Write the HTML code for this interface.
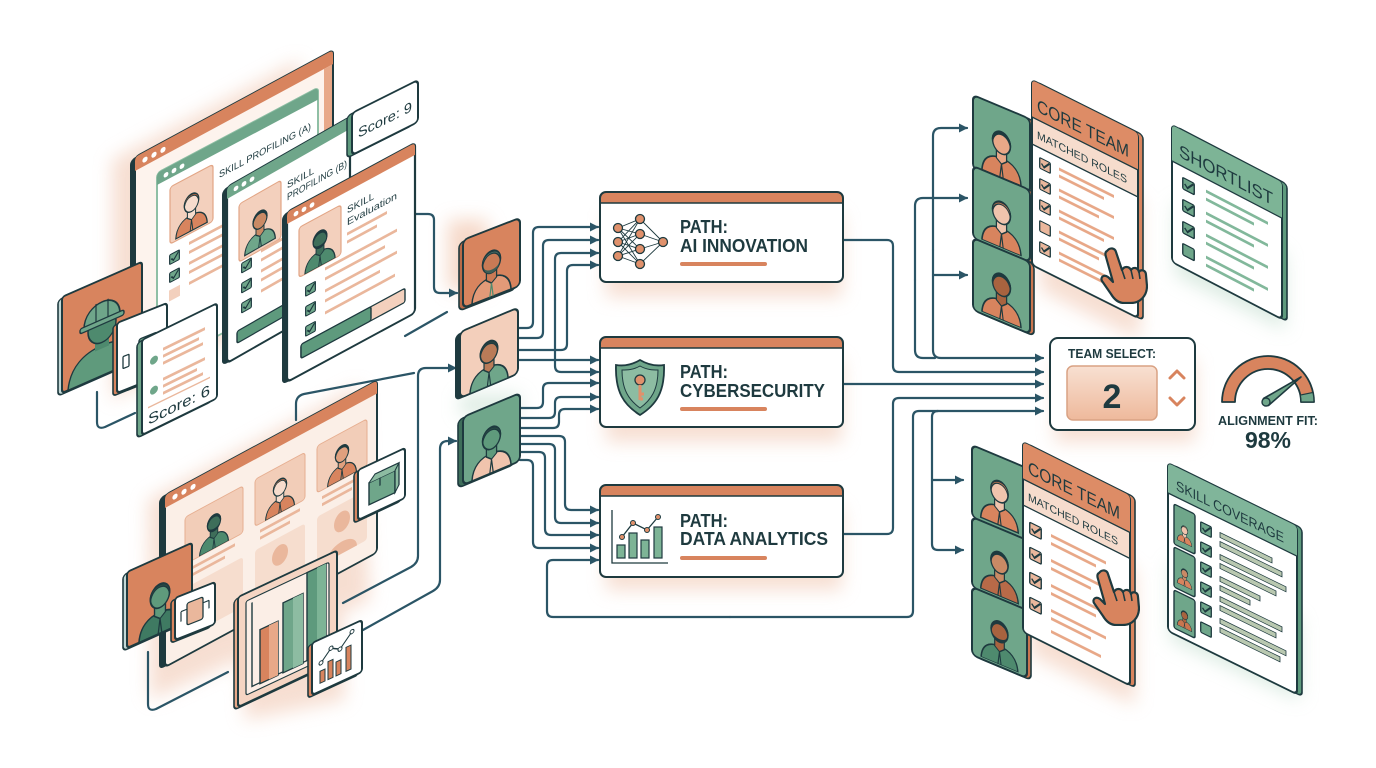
<!DOCTYPE html>
<html><head><meta charset="utf-8">
<style>
html,body{margin:0;padding:0;background:#fff;}
svg{display:block;}
text{font-family:"Liberation Sans",sans-serif;fill:#1e3a3f;}
</style></head>
<body>
<svg width="1376" height="768" viewBox="0 0 1376 768" xmlns="http://www.w3.org/2000/svg">
<defs>
<marker id="ah" viewBox="0 0 10 10" refX="9" refY="5" markerWidth="9" markerHeight="9" markerUnits="userSpaceOnUse" orient="auto"><path d="M0,0 L10,5 L0,10 Z" fill="#2b5566"/></marker>
<filter id="bl" x="-40%" y="-40%" width="180%" height="180%"><feGaussianBlur stdDeviation="9"/></filter>
<filter id="bl2" x="-40%" y="-40%" width="180%" height="180%"><feGaussianBlur stdDeviation="5"/></filter>
<linearGradient id="pg" x1="0" y1="0" x2="0" y2="1"><stop offset="0" stop-color="#f8e0d2"/><stop offset="1" stop-color="#eeb99c"/></linearGradient>
<symbol id="pp" viewBox="0 0 60 70">
<path d="M7,70 C8,54 17,47 30,47 C43,47 52,54 53,70 Z" style="fill:var(--sh)" stroke="#1e3a3f" stroke-width="1.8"/>
<path d="M24,38 V49 L30,54 L36,49 V38 Z" style="fill:var(--sk)" stroke="#1e3a3f" stroke-width="1.5"/>
<path d="M30,54 L28,70 M30,54 L32,70" style="stroke:var(--tie,#1e3a3f)" stroke-width="1.4" fill="none"/>
<ellipse cx="30" cy="29" rx="10.5" ry="13" style="fill:var(--sk)" stroke="#1e3a3f" stroke-width="1.8"/>
<path d="M21,33 C22,45 38,45 39,33 C37,40 23,40 21,33 Z" style="fill:var(--bd,none)"/>
<path d="M19.5,31 C17,13 43,12 40.5,31 C39,22 34,19.5 30,19.5 C26,19.5 21,22 19.5,31 Z" style="fill:var(--hr)" stroke="#1e3a3f" stroke-width="1.4"/>
</symbol>
<symbol id="chk" viewBox="0 0 12 12">
<rect x="0.7" y="0.7" width="10.6" height="10.6" rx="1.2" style="fill:var(--cb)" stroke="#1e3a3f" stroke-width="1.3"/>
<path d="M2.5,5.8 L5,8.5 L10.5,2" style="stroke:var(--ck,#1e3a3f)" fill="none" stroke-width="1.6"/>
</symbol>
<symbol id="hand" viewBox="0 0 50 58">
<path d="M9,5 C12,1 17,2 18,6 L24,24 C26,20 31,20 33,24 C35,21 40,21 41,26 C43,23 48,24 48,29 L49,40 C49,50 42,57 33,57 L26,57 C20,57 16,53 13,48 L4,35 C2,31 6,28 10,31 L15,36 L8,11 C7,8 7,6 9,5 Z" fill="#d8845e" stroke="#1e3a3f" stroke-width="2.2" stroke-linejoin="round"/>
<path d="M24,24 L27,33 M33,24 L35,33 M41,26 L42,33" stroke="#1e3a3f" stroke-width="1.6" fill="none"/>
</symbol>
</defs>

<!-- ============ GLOWS ============ -->
<g filter="url(#bl)" opacity="0.55">
<polygon points="112,160 300,60 300,300 112,400" fill="#f0c4ad"/>
<polygon points="148,500 360,385 370,600 150,700" fill="#f0c4ad"/>
<polygon points="240,600 340,560 345,700 245,720" fill="#f0c4ad"/>
<rect x="448" y="220" width="40" height="70" fill="#eeb99c"/>
<rect x="606" y="215" width="236" height="82" fill="#f0c4ad"/>
<rect x="606" y="360" width="236" height="82" fill="#f0c4ad"/>
<rect x="606" y="508" width="236" height="82" fill="#f0c4ad"/>
<rect x="1055" y="360" width="140" height="82" fill="#f0c4ad"/>
<polygon points="1040,150 1140,200 1140,340 1040,290" fill="#f0c4ad"/>
<polygon points="1030,520 1135,570 1135,705 1030,655" fill="#f0c4ad"/>
<polygon points="1175,200 1285,255 1285,330 1175,275" fill="#bfdccb"/>
<polygon points="1170,560 1300,620 1300,700 1170,640" fill="#bfdccb"/>
<rect x="460" y="395" width="60" height="20" fill="#bfdccb"/>
</g>

<!-- ============ CONNECTORS ============ -->
<g fill="none" stroke="#2b5566" stroke-width="2.2" stroke-linecap="round" stroke-linejoin="round">
<path d="M415,214 H428 Q434,214 434,220 V287 Q434,293 440,293 H457" marker-end="url(#ah)"/>
<path d="M405,336 L447,312"/>
<path d="M343,603 L411,567 Q418,563 418,556 V376 Q418,368 426,368 H456" marker-end="url(#ah)"/>
<path d="M363,630 L433,591 Q440,587 440,580 V449 Q440,441 448,441 H456" marker-end="url(#ah)"/>
<path d="M296,420 V404 Q296,396 304,394 L414,373"/>
<path d="M148,652 V704 Q148,712 156,709 L228,672"/>
<path d="M97,392 V422 Q97,430 105,427 L135,413"/>

<path d="M518,328 H527 Q533,328 533,322 V233 Q533,227 539,227 H598" marker-end="url(#ah)"/>
<path d="M518,338 H537 Q543,338 543,332 V246 Q543,240 549,240 H598" marker-end="url(#ah)"/>
<path d="M518,350 H561 Q567,350 567,344 V271 Q567,265 573,265 H598" marker-end="url(#ah)"/>
<path d="M555,300 V259 Q555,253 561,253 H598" marker-end="url(#ah)"/>
<path d="M555,300 V366 Q555,372 561,372 H598" marker-end="url(#ah)"/>
<path d="M518,360 H598" marker-end="url(#ah)"/>
<path d="M520,408 H537 Q543,408 543,402 V389 Q543,383 549,383 H598" marker-end="url(#ah)"/>
<path d="M520,418 H549 Q555,418 555,412 V403 Q555,397 561,397 H598" marker-end="url(#ah)"/>
<path d="M520,428 H553 Q559,428 559,422 V415 Q559,409 565,409 H598" marker-end="url(#ah)"/>
<path d="M520,436 H559 Q565,436 565,442 V504 Q565,510 571,510 H598" marker-end="url(#ah)"/>
<path d="M520,444 H549 Q555,444 555,450 V517 Q555,523 561,523 H598" marker-end="url(#ah)"/>
<path d="M520,452 H539 Q545,452 545,458 V529 Q545,535 551,535 H598" marker-end="url(#ah)"/>
<path d="M520,460 H527 Q533,460 533,466 V542 Q533,548 539,548 H598" marker-end="url(#ah)"/>
<path d="M730,617 H553 Q547,617 547,611 V566 Q547,560 553,560 H598" marker-end="url(#ah)"/>
<path d="M730,617 H907 Q913,617 913,611 V417 Q913,411 919,411 H1043" marker-end="url(#ah)"/>

<path d="M843,240 H887 Q893,240 893,246 V366 Q893,372 899,372 H1043" marker-end="url(#ah)"/>
<path d="M843,384 H1043" marker-end="url(#ah)"/>
<path d="M843,534 H887 Q893,534 893,528 V404 Q893,398 899,398 H1043" marker-end="url(#ah)"/>
<path d="M933,250 V136 Q933,128 941,128 H967" marker-end="url(#ah)"/>
<path d="M933,250 V350 Q933,358 941,358 H1043" marker-end="url(#ah)"/>
<path d="M933,275 H967" marker-end="url(#ah)"/>
<path d="M915,280 V206 Q915,198 923,198 H967" marker-end="url(#ah)"/>
<path d="M915,280 V350 Q915,358 923,358 H935"/>
<path d="M938,411 Q932,411 932,417 V544 Q932,550 938,550 H963" marker-end="url(#ah)"/>
<path d="M932,480 H963" marker-end="url(#ah)"/>
</g>

<!-- ============ LEFT TOP CLUSTER ============ -->
<!-- back orange window -->
<g transform="matrix(1,-0.54,0,1,130,160)"><rect width="198" height="205" rx="5" fill="#1e3a3f"/></g>
<g transform="matrix(1,-0.54,0,1,135,157)">
<rect width="198" height="205" rx="4" fill="#fdf3ed" stroke="#1e3a3f" stroke-width="2"/>
<path d="M0,14 V4 Q0,0 4,0 H194 Q198,0 198,4 V14 Z" fill="#d8845e"/>
<rect x="189" y="14" width="8" height="190" fill="#e8a888"/>
<circle cx="10" cy="8" r="2.6" fill="#fff"/><circle cx="19" cy="8" r="2.6" fill="#fff"/><circle cx="28" cy="8" r="2.6" fill="#fff"/>
</g>
<!-- window A -->
<g transform="matrix(1,-0.53,0,1,157,173)">
<rect width="161" height="195" rx="4" fill="#fff" stroke="#8fbfa5" stroke-width="2"/>
<path d="M0,12 V4 Q0,0 4,0 H157 Q161,0 161,4 V12 Z" fill="#6fa68a"/>
<circle cx="9" cy="6.5" r="2.4" fill="#fff"/><circle cx="17" cy="6.5" r="2.4" fill="#fff"/><circle cx="25" cy="6.5" r="2.4" fill="#fff"/>
<rect x="13" y="21" width="43" height="57" rx="3" fill="#f3d0bd" stroke="#e2a585" stroke-width="1.2"/>
<use href="#pp" x="14" y="26" width="41" height="52" style="--sh:#d8845e;--sk:#f6dccd;--hr:#c46a45"/>
<text x="62" y="38" font-size="10" textLength="92" lengthAdjust="spacingAndGlyphs">SKILL PROFILING (A)</text>
<use href="#chk" x="12" y="88" width="11" height="11" style="--cb:#6fa68a"/>
<use href="#chk" x="12" y="106" width="11" height="11" style="--cb:#6fa68a"/>
<rect x="12" y="124" width="11" height="11" fill="#f3d0bd"/>
<rect x="32" y="86" width="55" height="3" fill="#eab79c"/><rect x="32" y="95" width="45" height="3" fill="#eab79c"/>
<rect x="32" y="106" width="55" height="3" fill="#eab79c"/><rect x="32" y="115" width="40" height="3" fill="#eab79c"/>
<rect x="32" y="126" width="50" height="3" fill="#eab79c"/>
</g>
<!-- window B -->
<g transform="matrix(1,-0.57,0,1,222,190)"><rect width="123" height="176" rx="5" fill="#1e3a3f"/></g>
<g transform="matrix(1,-0.57,0,1,227,187)">
<rect width="123" height="176" rx="4" fill="#fff" stroke="#1e3a3f" stroke-width="2.2"/>
<path d="M0,12 V4 Q0,0 4,0 H119 Q123,0 123,4 V12 Z" fill="#6fa68a"/>
<circle cx="9" cy="6.5" r="2.4" fill="#fff"/><circle cx="17" cy="6.5" r="2.4" fill="#fff"/><circle cx="25" cy="6.5" r="2.4" fill="#fff"/>
<rect x="12" y="24" width="42" height="58" rx="3" fill="#f3d0bd" stroke="#e2a585" stroke-width="1.2"/>
<use href="#pp" x="13" y="29" width="40" height="53" style="--sh:#6fa68a;--sk:#c98a65;--hr:#1e3a3f"/>
<text x="60" y="36" font-size="10">SKILL</text>
<text x="60" y="48" font-size="10" textLength="60" lengthAdjust="spacingAndGlyphs">PROFILING (B)</text>
<use href="#chk" x="14" y="84" width="11" height="11" style="--cb:#6fa68a"/>
<use href="#chk" x="14" y="104" width="11" height="11" style="--cb:#6fa68a"/>
<use href="#chk" x="14" y="124" width="11" height="11" style="--cb:#6fa68a"/>
<rect x="34" y="82" width="70" height="3" fill="#eab79c"/><rect x="34" y="91" width="55" height="3" fill="#eab79c"/>
<rect x="34" y="102" width="70" height="3" fill="#eab79c"/><rect x="34" y="111" width="50" height="3" fill="#eab79c"/>
<rect x="34" y="122" width="65" height="3" fill="#eab79c"/>
<rect x="10" y="150" width="103" height="12" rx="2" fill="#5e9a7d" stroke="#1e3a3f" stroke-width="1.4"/>
</g>
<!-- evaluation window -->
<g transform="matrix(1,-0.54,0,1,282,215)"><rect width="128" height="170" rx="5" fill="#1e3a3f"/></g>
<g transform="matrix(1,-0.54,0,1,287,212)">
<rect width="128" height="170" rx="4" fill="#fff" stroke="#1e3a3f" stroke-width="2.2"/>
<path d="M0,12 V4 Q0,0 4,0 H124 Q128,0 128,4 V12 Z" fill="#d8845e"/>
<circle cx="9" cy="6.5" r="2.4" fill="#fff"/><circle cx="17" cy="6.5" r="2.4" fill="#fff"/><circle cx="25" cy="6.5" r="2.4" fill="#fff"/>
<rect x="12" y="22" width="42" height="50" rx="3" fill="#f3d0bd" stroke="#e2a585" stroke-width="1.2"/>
<use href="#pp" x="13" y="26" width="40" height="46" style="--sh:#4e8a6e;--sk:#3e6e5a;--hr:#1e3a3f;--bd:#1e3a3f"/>
<text x="60" y="34" font-size="10">SKILL</text>
<text x="60" y="46" font-size="10" textLength="50" lengthAdjust="spacingAndGlyphs">Evaluation</text>
<rect x="60" y="53" width="40" height="3" fill="#eab79c"/><rect x="60" y="61" width="30" height="3" fill="#eab79c"/>
<use href="#chk" x="18" y="84" width="11" height="11" style="--cb:#6fa68a"/>
<use href="#chk" x="18" y="104" width="11" height="11" style="--cb:#6fa68a"/>
<use href="#chk" x="18" y="124" width="11" height="11" style="--cb:#6fa68a"/>
<rect x="38" y="76" width="72" height="3" fill="#eab79c"/><rect x="38" y="86" width="60" height="3" fill="#eab79c"/>
<rect x="38" y="98" width="72" height="3" fill="#eab79c"/><rect x="38" y="108" width="55" height="3" fill="#eab79c"/>
<rect x="38" y="120" width="70" height="3" fill="#eab79c"/>
<rect x="14" y="140" width="104" height="14" rx="2" fill="#f3d0bd" stroke="#1e3a3f" stroke-width="1.4"/>
<rect x="14" y="140" width="70" height="14" rx="2" fill="#5e9a7d" stroke="#1e3a3f" stroke-width="1.4"/>
</g>
<!-- score 9 -->
<g transform="matrix(1,-0.5,0,1,347,116)"><rect width="66" height="42" rx="4" fill="#5e9a7d" stroke="#1e3a3f" stroke-width="1.5"/></g>
<g transform="matrix(1,-0.5,0,1,352,113)">
<rect width="66" height="42" rx="4" fill="#fff" stroke="#1e3a3f" stroke-width="2"/>
<text x="6" y="28" font-size="14" textLength="54" lengthAdjust="spacingAndGlyphs">Score: 9</text>
</g>
<!-- helmet card -->
<g transform="matrix(1,-0.44,0,1,58,300)"><rect width="80" height="96" rx="4" fill="#c3d8d6" stroke="#1e3a3f" stroke-width="1.6"/></g>
<g transform="matrix(1,-0.44,0,1,62,297)">
<rect width="80" height="96" rx="3" fill="#d8845e" stroke="#1e3a3f" stroke-width="2"/>
<path d="M6,96 C8,74 22,66 40,66 C58,66 72,74 74,96 Z" fill="#5f9a7c" stroke="#1e3a3f" stroke-width="1.5"/>
<rect x="33" y="55" width="14" height="14" fill="#4e8a6e"/>
<ellipse cx="40" cy="47" rx="14" ry="16" fill="#4e8a6e" stroke="#1e3a3f" stroke-width="1.5"/>
<path d="M22,42 C22,16 58,16 58,42 Z" fill="#6fa68a" stroke="#1e3a3f" stroke-width="1.6"/>
<rect x="18" y="40" width="44" height="5" rx="2" fill="#6fa68a" stroke="#1e3a3f" stroke-width="1.4"/>
<path d="M34,22 V40 M46,22 V40" stroke="#1e3a3f" stroke-width="1.2"/>
</g>
<!-- small card -->
<g transform="matrix(1,-0.4,0,1,113,326)"><rect width="50" height="70" rx="3" fill="#d8845e" stroke="#1e3a3f" stroke-width="1.6"/></g>
<g transform="matrix(1,-0.4,0,1,117,323)">
<rect width="50" height="70" rx="3" fill="#fff" stroke="#1e3a3f" stroke-width="2"/>
<rect x="22" y="25" width="18" height="32" rx="2" fill="#6fa68a" stroke="#1e3a3f" stroke-width="1.4"/>
<rect x="6" y="36" width="6" height="12" rx="1" fill="none" stroke="#1e3a3f" stroke-width="1.3"/>
</g>
<!-- score 6 -->
<g transform="matrix(1,-0.49,0,1,137,343)"><rect width="75" height="95" rx="4" fill="#6fa68a" stroke="#1e3a3f" stroke-width="1.6"/></g>
<g transform="matrix(1,-0.49,0,1,142,340)">
<rect width="75" height="95" rx="3" fill="#fff" stroke="#1e3a3f" stroke-width="2"/>
<circle cx="12" cy="26" r="4" fill="#6fa68a"/><circle cx="12" cy="56" r="4" fill="#6fa68a"/>
<rect x="21" y="18" width="42" height="3" fill="#eab79c"/><rect x="21" y="25" width="36" height="3" fill="#eab79c"/><rect x="21" y="32" width="40" height="3" fill="#eab79c"/>
<rect x="21" y="48" width="42" height="3" fill="#eab79c"/><rect x="21" y="55" width="34" height="3" fill="#eab79c"/><rect x="21" y="62" width="40" height="3" fill="#eab79c"/>
<rect x="6" y="70" width="62" height="1.5" fill="#eab79c"/>
<text x="6" y="88" font-size="15" textLength="62" lengthAdjust="spacingAndGlyphs">Score: 6</text>
</g>

<!-- ============ LEFT BOTTOM CLUSTER ============ -->
<g transform="matrix(1,-0.54,0,1,159,498)"><rect width="212" height="172" rx="5" fill="#1e3a3f"/></g>
<g transform="matrix(1,-0.54,0,1,165,495)">
<rect width="212" height="172" rx="4" fill="#fbefe7" stroke="#1e3a3f" stroke-width="2"/>
<path d="M0,13 V4 Q0,0 4,0 H208 Q212,0 212,4 V13 Z" fill="#d8845e"/>
<circle cx="10" cy="7" r="2.6" fill="#fff"/><circle cx="19" cy="7" r="2.6" fill="#fff"/><circle cx="28" cy="7" r="2.6" fill="#fff"/>
<rect x="20" y="33" width="58" height="47" rx="3" fill="#f2cdb8" stroke="#e6ae90"/>
<use href="#pp" x="27" y="36" width="44" height="44" style="--sh:#4e8a6e;--sk:#3e6e5a;--hr:#1e3a3f;--bd:#1e3a3f"/>
<rect x="90" y="33" width="50" height="47" rx="3" fill="#f2cdb8" stroke="#e6ae90"/>
<use href="#pp" x="93" y="36" width="44" height="44" style="--sh:#d8845e;--sk:#f6dccd;--hr:#c46a45"/>
<rect x="152" y="33" width="50" height="47" rx="3" fill="#f2cdb8" stroke="#e6ae90"/>
<use href="#pp" x="155" y="36" width="44" height="44" style="--sh:#d8845e;--sk:#e0a07e;--hr:#1e3a3f"/>
<rect x="25" y="86" width="45" height="3" fill="#eab79c"/><rect x="25" y="93" width="35" height="3" fill="#eab79c"/>
<rect x="95" y="86" width="40" height="3" fill="#eab79c"/><rect x="95" y="93" width="30" height="3" fill="#eab79c"/>
<rect x="157" y="86" width="40" height="3" fill="#eab79c"/><rect x="157" y="93" width="30" height="3" fill="#eab79c"/>
<rect x="20" y="104" width="58" height="50" rx="3" fill="#f6ddce"/>
<rect x="90" y="104" width="50" height="50" rx="3" fill="#f6ddce"/>
<rect x="152" y="104" width="50" height="50" rx="3" fill="#f6ddce"/>
<ellipse cx="115" cy="122" rx="8" ry="10" fill="#eab79c"/>
<ellipse cx="177" cy="122" rx="8" ry="10" fill="#eab79c"/>
<path d="M162,154 C163,138 191,138 192,154 Z" fill="#eab79c"/>
</g>
<!-- man card -->
<g transform="matrix(1,-0.45,0,1,123,575)"><rect width="65" height="76" rx="4" fill="#c3d8d6" stroke="#1e3a3f" stroke-width="1.6"/></g>
<g transform="matrix(1,-0.45,0,1,127,572)">
<rect width="65" height="76" rx="3" fill="#d8845e" stroke="#1e3a3f" stroke-width="2"/>
<use href="#pp" x="3" y="12" width="60" height="64" style="--sh:#3f7a62;--sk:#5f9a7c;--hr:#2b4f45"/>
</g>
<!-- robot card -->
<g transform="matrix(1,-0.4,0,1,171,601)"><rect width="40" height="42" rx="3" fill="#d8845e" stroke="#1e3a3f" stroke-width="1.6"/></g>
<g transform="matrix(1,-0.4,0,1,175,598)">
<rect width="40" height="42" rx="3" fill="#fff" stroke="#1e3a3f" stroke-width="2"/>
<rect x="12" y="10" width="16" height="22" rx="2" fill="#eab79c" stroke="#1e3a3f" stroke-width="1.3"/>
<path d="M6,16 H12 M28,16 H34 M6,16 V26 M34,16 V24" stroke="#1e3a3f" stroke-width="1.2" fill="none"/>
</g>
<!-- bar chart card -->
<g transform="matrix(1,-0.47,0,1,234,600)"><rect width="99" height="110" rx="4" fill="#e8a888" stroke="#1e3a3f" stroke-width="1.6"/></g>
<g transform="matrix(1,-0.47,0,1,238,597)">
<rect width="99" height="110" rx="3" fill="#f5d5c3" stroke="#1e3a3f" stroke-width="2"/>
<rect x="8" y="8" width="83" height="94" rx="2" fill="#fbeee6" stroke="#1e3a3f" stroke-width="1.2"/>
<path d="M14,12 V96 H86" stroke="#1e3a3f" stroke-width="1.4" fill="none"/>
<rect x="22" y="43" width="18" height="54" fill="#d8845e" stroke="#1e3a3f" stroke-width="1.4"/>
<rect x="31" y="43" width="9" height="54" fill="#e8a888"/>
<rect x="45" y="27" width="20" height="70" fill="#6fa68a" stroke="#1e3a3f" stroke-width="1.4"/>
<rect x="55" y="27" width="10" height="70" fill="#8dbca2"/>
<rect x="69" y="8" width="19" height="88" fill="#5e9a7d" stroke="#1e3a3f" stroke-width="1.4"/>
<rect x="79" y="8" width="9" height="88" fill="#7db496"/>
</g>
<!-- line chart card -->
<g transform="matrix(1,-0.46,0,1,308,646)"><rect width="50" height="52" rx="3" fill="#d8845e" stroke="#1e3a3f" stroke-width="1.6"/></g>
<g transform="matrix(1,-0.46,0,1,312,643)">
<rect width="50" height="52" rx="3" fill="#fff" stroke="#1e3a3f" stroke-width="2"/>
<rect x="8" y="32" width="5" height="12" fill="#d8845e" stroke="#1e3a3f" stroke-width="1"/>
<rect x="16" y="26" width="5" height="18" fill="#d8845e" stroke="#1e3a3f" stroke-width="1"/>
<rect x="24" y="30" width="5" height="14" fill="#d8845e" stroke="#1e3a3f" stroke-width="1"/>
<rect x="34" y="20" width="5" height="24" fill="#d8845e" stroke="#1e3a3f" stroke-width="1"/>
<polyline points="9,24 19,14 28,19 40,7" fill="none" stroke="#1e3a3f" stroke-width="1.3"/>
<circle cx="9" cy="24" r="2" fill="#fff" stroke="#1e3a3f"/><circle cx="19" cy="14" r="2" fill="#fff" stroke="#1e3a3f"/><circle cx="28" cy="19" r="2" fill="#fff" stroke="#1e3a3f"/><circle cx="40" cy="7" r="2" fill="#fff" stroke="#1e3a3f"/>
</g>
<!-- box card -->
<g transform="matrix(1,-0.47,0,1,354,473)"><rect width="47" height="50" rx="3" fill="#d8845e" stroke="#1e3a3f" stroke-width="1.6"/></g>
<g transform="matrix(1,-0.47,0,1,358,470)">
<rect width="47" height="50" rx="3" fill="#fff" stroke="#1e3a3f" stroke-width="2"/>
<rect x="11" y="18" width="26" height="22" fill="#6fa68a" stroke="#1e3a3f" stroke-width="1.4"/>
<path d="M11,18 L17,12 H41 L37,18 M37,18 V40 L41,34 V12" fill="#8dbca2" stroke="#1e3a3f" stroke-width="1.3"/>
<path d="M22,18 V26" stroke="#1e3a3f" stroke-width="1.3"/>
</g>

<!-- ============ MIDDLE AVATARS ============ -->
<g transform="matrix(1,-0.39,0,1,459,243)"><rect width="57" height="68" rx="5" fill="#b86a48" stroke="#1e3a3f" stroke-width="1.6"/></g>
<g transform="matrix(1,-0.39,0,1,463,240)">
<rect width="57" height="68" rx="5" fill="#d8845e" stroke="#1e3a3f" stroke-width="2"/>
<use href="#pp" x="3" y="8" width="51" height="60" style="--sh:#e39a78;--sk:#c97a55;--hr:#4e6e64;--bd:#3e5e56;--tie:#4e8a6e"/>
</g>
<g transform="matrix(1,-0.42,0,1,455,335)"><rect width="58" height="66" rx="5" fill="#1e3a3f"/></g>
<g transform="matrix(1,-0.42,0,1,460,332)">
<rect width="58" height="66" rx="5" fill="#f3cfbb" stroke="#1e3a3f" stroke-width="2"/>
<use href="#pp" x="3" y="8" width="52" height="58" style="--sh:#6fa68a;--sk:#b97b58;--hr:#2b4440"/>
</g>
<g transform="matrix(1,-0.42,0,1,458,420)"><rect width="57" height="68" rx="5" fill="#3e6e5a" stroke="#1e3a3f" stroke-width="1.6"/></g>
<g transform="matrix(1,-0.42,0,1,463,417)">
<rect width="57" height="68" rx="5" fill="#6fa68a" stroke="#1e3a3f" stroke-width="2"/>
<use href="#pp" x="3" y="8" width="51" height="60" style="--sh:#f0c4ad;--sk:#5f9a7c;--hr:#2b4f45"/>
</g>

<!-- ============ PATH BOXES ============ -->
<g>
<rect x="600" y="192" width="243" height="90" rx="6" fill="#fff"/>
<path d="M600,203 V198 Q600,192 606,192 H837 Q843,192 843,198 V203 Z" fill="#d8845e"/>
<line x1="600" y1="203" x2="843" y2="203" stroke="#1e3a3f" stroke-width="1.5"/>
<rect x="600" y="192" width="243" height="90" rx="6" fill="none" stroke="#1e3a3f" stroke-width="2"/>
<g stroke="#1e3a3f" stroke-width="0.9">
<path d="M618,228 L640,219 M618,228 L640,234 M618,228 L640,249 M618,228 L640,264 M618,242 L640,219 M618,242 L640,234 M618,242 L640,249 M618,242 L640,264 M618,256 L640,219 M618,256 L640,234 M618,256 L640,249 M618,256 L640,264 M640,219 L663,242 M640,234 L663,242 M640,249 L663,242 M640,264 L663,242"/>
</g>
<g fill="#e0916c" stroke="#1e3a3f" stroke-width="1.3">
<circle cx="618" cy="228" r="4.5"/><circle cx="618" cy="242" r="4.5"/><circle cx="618" cy="256" r="4.5"/>
<circle cx="640" cy="219" r="4.5"/><circle cx="640" cy="234" r="4.5"/><circle cx="640" cy="249" r="4.5"/><circle cx="640" cy="264" r="4.5"/>
<circle cx="663" cy="242" r="4.5"/>
</g>
<text x="680" y="233" font-size="18" font-weight="bold" textLength="48" lengthAdjust="spacingAndGlyphs">PATH:</text>
<text x="680" y="252" font-size="18" font-weight="bold" textLength="128" lengthAdjust="spacingAndGlyphs">AI INNOVATION</text>
<rect x="680" y="262" width="87" height="4" rx="2" fill="#d8845e"/>
</g>
<g>
<rect x="600" y="337" width="243" height="90" rx="6" fill="#fff"/>
<path d="M600,348 V343 Q600,337 606,337 H837 Q843,337 843,343 V348 Z" fill="#d8845e"/>
<line x1="600" y1="348" x2="843" y2="348" stroke="#1e3a3f" stroke-width="1.5"/>
<rect x="600" y="337" width="243" height="90" rx="6" fill="none" stroke="#1e3a3f" stroke-width="2"/>
<path d="M640,360 C650,366 658,366 664,365 C665,392 656,405 640,415 C624,405 615,392 616,365 C622,366 630,366 640,360 Z" fill="#6fa68a" stroke="#1e3a3f" stroke-width="1.8"/>
<path d="M640,366 C647,370 653,370 658,370 C658,390 651,400 640,408 C629,400 622,390 622,370 C627,370 633,370 640,366 Z" fill="#8dbca2" stroke="#1e3a3f" stroke-width="1"/>
<circle cx="640" cy="380" r="5" fill="#e0916c" stroke="#1e3a3f" stroke-width="1.3"/>
<path d="M640,385 V400 M640,394 H644 M640,399 H643" stroke="#e0916c" stroke-width="3" fill="none"/>
<text x="680" y="378" font-size="18" font-weight="bold" textLength="48" lengthAdjust="spacingAndGlyphs">PATH:</text>
<text x="680" y="397" font-size="18" font-weight="bold" textLength="145" lengthAdjust="spacingAndGlyphs">CYBERSECURITY</text>
<rect x="680" y="407" width="87" height="4" rx="2" fill="#d8845e"/>
</g>
<g>
<rect x="600" y="485" width="243" height="92" rx="6" fill="#fff"/>
<path d="M600,496 V491 Q600,485 606,485 H837 Q843,485 843,491 V496 Z" fill="#d8845e"/>
<line x1="600" y1="496" x2="843" y2="496" stroke="#1e3a3f" stroke-width="1.5"/>
<rect x="600" y="485" width="243" height="92" rx="6" fill="none" stroke="#1e3a3f" stroke-width="2"/>
<path d="M612,510 V563 H668" stroke="#1e3a3f" stroke-width="1.3" fill="none"/>
<g fill="#7db496" stroke="#1e3a3f" stroke-width="1.2">
<rect x="617" y="545" width="8" height="13"/><rect x="629" y="533" width="8" height="25"/><rect x="641" y="540" width="8" height="18"/><rect x="654" y="527" width="8" height="31"/>
</g>
<polyline points="622,537 633,523 647,530 658,517" fill="none" stroke="#1e3a3f" stroke-width="1.3"/>
<g fill="#e0916c" stroke="#1e3a3f" stroke-width="1"><circle cx="622" cy="537" r="2.5"/><circle cx="633" cy="523" r="2.5"/><circle cx="647" cy="530" r="2.5"/><circle cx="658" cy="517" r="2.5"/></g>
<text x="680" y="527" font-size="18" font-weight="bold" textLength="48" lengthAdjust="spacingAndGlyphs">PATH:</text>
<text x="680" y="545" font-size="18" font-weight="bold" textLength="148" lengthAdjust="spacingAndGlyphs">DATA ANALYTICS</text>
<rect x="680" y="556" width="87" height="4" rx="2" fill="#d8845e"/>
</g>

<!-- ============ RIGHT TOP ============ -->
<g transform="matrix(1,0.42,0,1,977,97)"><rect width="57" height="74" rx="5" fill="#c9754f" stroke="#1e3a3f" stroke-width="1.6"/></g>
<g transform="matrix(1,0.42,0,1,973,95)"><rect width="57" height="74" rx="5" fill="#6fa68a" stroke="#1e3a3f" stroke-width="2"/>
<use href="#pp" x="3" y="10" width="51" height="62" style="--sh:#d8845e;--sk:#e8a888;--hr:#1e3a3f"/></g>
<g transform="matrix(1,0.42,0,1,977,168)"><rect width="57" height="72" rx="5" fill="#c9754f" stroke="#1e3a3f" stroke-width="1.6"/></g>
<g transform="matrix(1,0.42,0,1,973,166)"><rect width="57" height="72" rx="5" fill="#6fa68a" stroke="#1e3a3f" stroke-width="2"/>
<use href="#pp" x="3" y="10" width="51" height="60" style="--sh:#d8845e;--sk:#f0c4ad;--hr:#c9754f"/></g>
<g transform="matrix(1,0.42,0,1,977,240)"><rect width="57" height="72" rx="5" fill="#c9754f" stroke="#1e3a3f" stroke-width="1.6"/></g>
<g transform="matrix(1,0.42,0,1,973,238)"><rect width="57" height="72" rx="5" fill="#6fa68a" stroke="#1e3a3f" stroke-width="2"/>
<use href="#pp" x="3" y="10" width="51" height="60" style="--sh:#d8845e;--sk:#a8633f;--hr:#1e3a3f"/></g>

<g transform="matrix(1,0.5,0,1,1037,82)"><rect width="106" height="185" rx="4" fill="#d8845e" stroke="#1e3a3f" stroke-width="1.6"/></g>
<g transform="matrix(1,0.5,0,1,1032,80)">
<rect width="106" height="185" rx="4" fill="#fff" stroke="#1e3a3f" stroke-width="2"/>
<path d="M0,37 V4 Q0,0 4,0 H102 Q106,0 106,4 V37 Z" fill="#dd8c66"/>
<rect x="1" y="37" width="104" height="27" fill="#f6dccd"/>
<path d="M0,37 H106 M0,64 H106" stroke="#1e3a3f" stroke-width="1.4"/>
<text x="5" y="29" font-size="18" textLength="92" lengthAdjust="spacingAndGlyphs">CORE TEAM</text>
<text x="5" y="56" font-size="11" textLength="90" lengthAdjust="spacingAndGlyphs">MATCHED ROLES</text>
<use href="#chk" x="7" y="73" width="12" height="12" style="--cb:#eab79c"/>
<use href="#chk" x="7" y="94" width="12" height="12" style="--cb:#eab79c"/>
<use href="#chk" x="7" y="115" width="12" height="12" style="--cb:#eab79c"/>
<use href="#chk" x="7" y="136" width="12" height="12" style="--cb:#eab79c;--ck:none"/>
<use href="#chk" x="7" y="157" width="12" height="12" style="--cb:#eab79c"/>
<g fill="#e8a888">
<rect x="27" y="74" width="55" height="3"/><rect x="27" y="81" width="45" height="3"/>
<rect x="27" y="95" width="55" height="3"/><rect x="27" y="102" width="40" height="3"/>
<rect x="27" y="116" width="55" height="3"/><rect x="27" y="123" width="45" height="3"/>
<rect x="27" y="137" width="55" height="3"/><rect x="27" y="144" width="40" height="3"/>
<rect x="27" y="158" width="55" height="3"/><rect x="27" y="165" width="45" height="3"/>
</g>
</g>
<use href="#hand" x="1098" y="246" width="50" height="58"/>

<g transform="matrix(1,0.52,0,1,1177,127)"><rect width="110" height="137" rx="4" fill="#5e9a7d" stroke="#1e3a3f" stroke-width="1.6"/></g>
<g transform="matrix(1,0.52,0,1,1172,125)">
<rect width="110" height="137" rx="4" fill="#fff" stroke="#1e3a3f" stroke-width="2"/>
<path d="M0,36 V4 Q0,0 4,0 H106 Q110,0 110,4 V36 Z" fill="#7db496"/>
<path d="M0,36 H110" stroke="#1e3a3f" stroke-width="1.4"/>
<text x="7" y="28" font-size="18" textLength="94" lengthAdjust="spacingAndGlyphs">SHORTLIST</text>
<use href="#chk" x="10" y="46" width="13" height="13" style="--cb:#6fa68a"/>
<use href="#chk" x="10" y="68" width="13" height="13" style="--cb:#6fa68a"/>
<use href="#chk" x="10" y="90" width="13" height="13" style="--cb:#6fa68a"/>
<use href="#chk" x="10" y="112" width="13" height="13" style="--cb:#6fa68a;--ck:none"/>
<g fill="#82b89b">
<rect x="34" y="47" width="62" height="3"/><rect x="34" y="55" width="48" height="3"/>
<rect x="34" y="69" width="62" height="3"/><rect x="34" y="77" width="48" height="3"/>
<rect x="34" y="91" width="62" height="3"/><rect x="34" y="99" width="48" height="3"/>
<rect x="34" y="113" width="62" height="3"/><rect x="34" y="121" width="48" height="3"/>
</g>
</g>

<!-- ============ TEAM SELECT & GAUGE ============ -->
<rect x="1050" y="338" width="145" height="92" rx="8" fill="#fff" stroke="#1e3a3f" stroke-width="2"/>
<text x="1068" y="358" font-size="13" font-weight="bold" textLength="88" lengthAdjust="spacingAndGlyphs">TEAM SELECT:</text>
<rect x="1067" y="366" width="90" height="54" rx="6" fill="url(#pg)" stroke="#d9a284" stroke-width="1.5"/>
<text x="1112" y="408" font-size="34" font-weight="bold" text-anchor="middle">2</text>
<polyline points="1170,378 1177,371 1184,378" fill="none" stroke="#d8845e" stroke-width="3" stroke-linecap="round" stroke-linejoin="round"/>
<polyline points="1170,398 1177,405 1184,398" fill="none" stroke="#d8845e" stroke-width="3" stroke-linecap="round" stroke-linejoin="round"/>

<path d="M1222,402 A46,46 0 0 1 1314,402 L1301,402 A33,33 0 0 0 1235,402 Z" fill="#d8845e" stroke="#1e3a3f" stroke-width="1.8" stroke-linejoin="round"/>
<path d="M1313,392.4 A46,46 0 0 1 1314,402 L1301,402 A33,33 0 0 0 1300.3,395.1 Z" fill="#6fa68a" stroke="#1e3a3f" stroke-width="1.2"/>
<path d="M1263.5,398.5 L1301,377 L1268.5,405.5 Z" fill="#6fa68a" stroke="#1e3a3f" stroke-width="1.6" stroke-linejoin="round"/>
<circle cx="1266" cy="402" r="4" fill="#6fa68a" stroke="#1e3a3f" stroke-width="1.4"/>
<text x="1268" y="425" font-size="13" font-weight="bold" text-anchor="middle" textLength="100" lengthAdjust="spacingAndGlyphs">ALIGNMENT FIT:</text>
<text x="1268" y="448" font-size="23" font-weight="bold" text-anchor="middle">98%</text>

<!-- ============ RIGHT BOTTOM ============ -->
<g transform="matrix(1,0.42,0,1,976,447)"><rect width="55" height="72" rx="5" fill="#c9754f" stroke="#1e3a3f" stroke-width="1.6"/></g>
<g transform="matrix(1,0.42,0,1,972,445)"><rect width="55" height="72" rx="5" fill="#6fa68a" stroke="#1e3a3f" stroke-width="2"/>
<use href="#pp" x="3" y="10" width="49" height="60" style="--sh:#d8845e;--sk:#f0c4ad;--hr:#c9754f"/></g>
<g transform="matrix(1,0.42,0,1,976,519)"><rect width="55" height="70" rx="5" fill="#c9754f" stroke="#1e3a3f" stroke-width="1.6"/></g>
<g transform="matrix(1,0.42,0,1,972,517)"><rect width="55" height="70" rx="5" fill="#6fa68a" stroke="#1e3a3f" stroke-width="2"/>
<use href="#pp" x="3" y="10" width="49" height="58" style="--sh:#b86a48;--sk:#c98a65;--hr:#1e3a3f"/></g>
<g transform="matrix(1,0.42,0,1,976,589)"><rect width="55" height="68" rx="5" fill="#c9754f" stroke="#1e3a3f" stroke-width="1.6"/></g>
<g transform="matrix(1,0.42,0,1,972,587)"><rect width="55" height="68" rx="5" fill="#6fa68a" stroke="#1e3a3f" stroke-width="2"/>
<use href="#pp" x="3" y="10" width="49" height="56" style="--sh:#4e8a6e;--sk:#a8633f;--hr:#1e3a3f;--bd:#1e3a3f"/></g>

<g transform="matrix(1,0.5,0,1,1028,444)"><rect width="107" height="190" rx="4" fill="#d8845e" stroke="#1e3a3f" stroke-width="1.6"/></g>
<g transform="matrix(1,0.5,0,1,1023,442)">
<rect width="107" height="190" rx="4" fill="#fff" stroke="#1e3a3f" stroke-width="2"/>
<path d="M0,37 V4 Q0,0 4,0 H103 Q107,0 107,4 V37 Z" fill="#dd8c66"/>
<rect x="1" y="37" width="105" height="26" fill="#f6dccd"/>
<path d="M0,37 H107 M0,63 H107" stroke="#1e3a3f" stroke-width="1.4"/>
<text x="5" y="29" font-size="18" textLength="92" lengthAdjust="spacingAndGlyphs">CORE TEAM</text>
<text x="5" y="56" font-size="11" textLength="90" lengthAdjust="spacingAndGlyphs">MATCHED ROLES</text>
<use href="#chk" x="6" y="76" width="13" height="13" style="--cb:#eab79c"/>
<use href="#chk" x="6" y="101" width="13" height="13" style="--cb:#eab79c"/>
<use href="#chk" x="6" y="126" width="13" height="13" style="--cb:#eab79c"/>
<use href="#chk" x="6" y="151" width="13" height="13" style="--cb:#eab79c"/>
<g fill="#e8a888">
<rect x="28" y="78" width="55" height="3"/><rect x="28" y="86" width="45" height="3"/>
<rect x="28" y="103" width="55" height="3"/><rect x="28" y="111" width="40" height="3"/>
<rect x="28" y="128" width="55" height="3"/><rect x="28" y="136" width="45" height="3"/>
<rect x="28" y="153" width="55" height="3"/><rect x="28" y="161" width="40" height="3"/>
<rect x="28" y="174" width="50" height="3"/>
</g>
</g>
<use href="#hand" x="1090" y="568" width="50" height="58"/>

<g transform="matrix(1,0.49,0,1,1173,465)"><rect width="129" height="168" rx="4" fill="#5e9a7d" stroke="#1e3a3f" stroke-width="1.6"/></g>
<g transform="matrix(1,0.49,0,1,1168,463)">
<rect width="129" height="168" rx="4" fill="#fff" stroke="#1e3a3f" stroke-width="2"/>
<path d="M0,30 V4 Q0,0 4,0 H125 Q129,0 129,4 V30 Z" fill="#80b59a"/>
<path d="M0,30 H129" stroke="#1e3a3f" stroke-width="1.4"/>
<text x="8" y="23" font-size="14" textLength="108" lengthAdjust="spacingAndGlyphs">SKILL COVERAGE</text>
<rect x="6" y="38" width="21" height="40" rx="2" fill="#6fa68a" stroke="#1e3a3f" stroke-width="1.4"/>
<use href="#pp" x="7" y="44" width="19" height="34" style="--sh:#d8845e;--sk:#f0c4ad;--hr:#d8845e"/>
<rect x="6" y="81" width="21" height="40" rx="2" fill="#6fa68a" stroke="#1e3a3f" stroke-width="1.4"/>
<use href="#pp" x="7" y="87" width="19" height="34" style="--sh:#d8845e;--sk:#c98a65;--hr:#1e3a3f"/>
<rect x="6" y="124" width="21" height="38" rx="2" fill="#6fa68a" stroke="#1e3a3f" stroke-width="1.4"/>
<use href="#pp" x="7" y="130" width="19" height="32" style="--sh:#c9754f;--sk:#a8633f;--hr:#1e3a3f"/>
<use href="#chk" x="32" y="42" width="12" height="12" style="--cb:#6fa68a"/>
<use href="#chk" x="32" y="62" width="12" height="12" style="--cb:#6fa68a"/>
<use href="#chk" x="32" y="82" width="12" height="12" style="--cb:#6fa68a"/>
<use href="#chk" x="32" y="102" width="12" height="12" style="--cb:#6fa68a"/>
<use href="#chk" x="32" y="122" width="12" height="12" style="--cb:#6fa68a"/>
<use href="#chk" x="32" y="142" width="12" height="12" style="--cb:#6fa68a;--ck:none"/>
<g fill="#b9c8b0" stroke="#1e3a3f" stroke-width="0.8">
<rect x="52" y="44" width="52" height="5"/><rect x="52" y="53" width="62" height="5"/>
<rect x="52" y="66" width="66" height="5"/><rect x="52" y="75" width="56" height="5"/>
<rect x="52" y="88" width="40" height="5"/><rect x="52" y="97" width="30" height="5"/>
<rect x="52" y="108" width="62" height="5"/><rect x="52" y="117" width="56" height="5"/>
<rect x="52" y="130" width="66" height="5"/><rect x="52" y="139" width="60" height="5"/>
</g>
</g>
</svg>
</body></html>
